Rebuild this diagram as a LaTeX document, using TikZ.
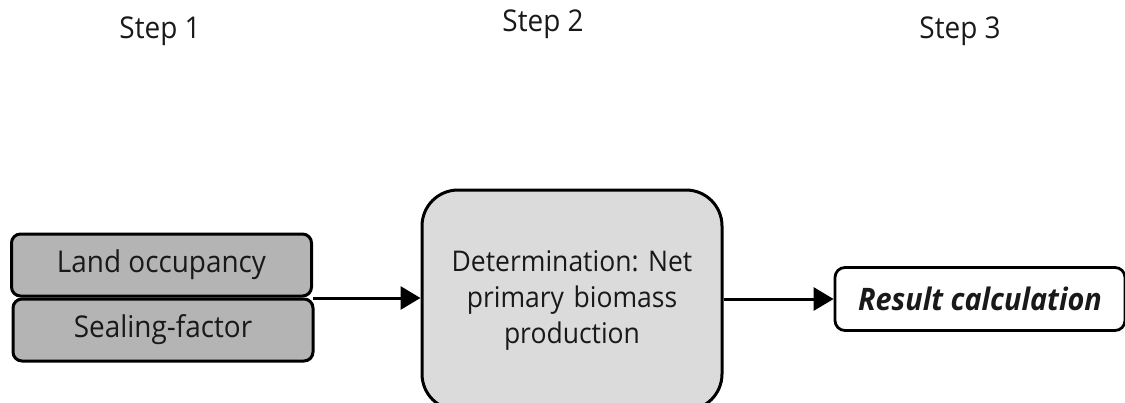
\documentclass[tikz,border=0pt]{standalone}
\usepackage{fontspec}
\setmainfont[FakeStretch=0.93]{Open Sans}
\usetikzlibrary{arrows.meta}
\definecolor{inputgray}{HTML}{B4B4B4}
\definecolor{procgray}{HTML}{DCDBDC}
\frenchspacing
\begin{document}
\begin{tikzpicture}[x=1pt,y=-1pt,
  every node/.style={font=\fontsize{30}{36}\selectfont, text=black!90},
  inbox/.style={draw=black, line width=3pt, fill=inputgray, rounded corners=9pt,
    minimum width=300pt, minimum height=62pt, inner sep=0pt},
  procbox/.style={draw=black, line width=3pt, fill=procgray, rounded corners=36pt,
    minimum width=300pt, minimum height=220pt, inner sep=0pt, align=center, text width=290pt,
    font=\fontsize{28.5}{36}\selectfont},
  outbox/.style={draw=black, line width=2.8pt, fill=white, rounded corners=10pt,
    minimum width=290pt, minimum height=63pt, inner sep=0pt,
    font=\fontsize{31}{36}\selectfont\bfseries\itshape},
  flow/.style={line width=3pt, -{Triangle[length=20pt,width=23pt]}},
  steplabel/.style={font=\fontsize{30}{36}\selectfont}]
  \useasboundingbox (0,0) rectangle (1125,402);
  \clip (0,0) rectangle (1125,402);

  % column headings
  \node[steplabel] (s1) at (160,31) {Step 1};
  \node[steplabel] (s2) at (543,24) {Step 2};
  \node[steplabel] (s3) at (960,31) {Step 3};

  % step 1: inputs
  \node[inbox] (land) at (161.5,265) {Land occupancy};
  \node[inbox] (seal) at (163,330) {Sealing-factor};
  \coordinate (join) at (313,298);

  % step 2: processing
  \node[procbox] (npp) at (572,300) {Determination: Net\\primary biomass\\production};

  % step 3: output
  \node[outbox] (res) at (980,299) {Result calculation};

  % connectors
  \draw[flow] (join) -- (npp.west |- join);
  \draw[flow] (npp.east |- res.west) -- (res.west);
\end{tikzpicture}
\end{document}
